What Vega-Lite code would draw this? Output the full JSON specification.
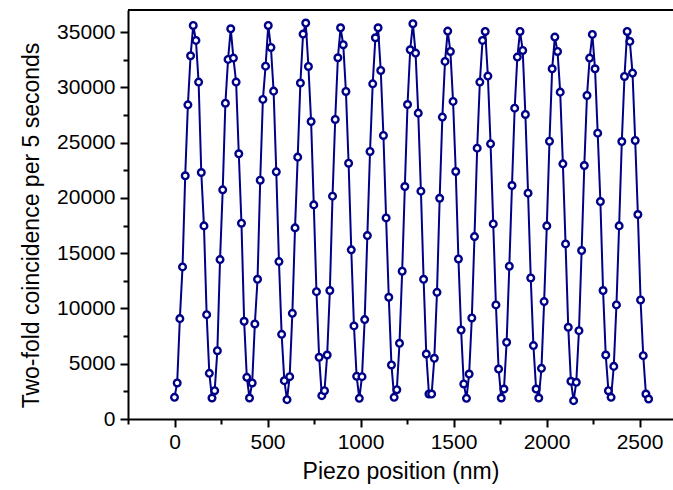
{
  "$schema": "https://vega.github.io/schema/vega-lite/v6.json",
  "autosize": {"type": "none"},
  "padding": {"left": 128, "top": 10, "right": 0, "bottom": 71},
  "width": 545,
  "height": 409,
  "background": "white",
  "config": {
    "view": {"stroke": null},
    "axis": {
      "grid": false,
      "domainColor": "black",
      "domainWidth": 2,
      "tickColor": "black",
      "tickWidth": 2,
      "labelFont": "Liberation Sans",
      "labelFontSize": 21,
      "labelColor": "black",
      "titleFont": "Liberation Sans",
      "titleFontSize": 23,
      "titleFontWeight": "normal",
      "titleColor": "black"
    }
  },
  "data": {
    "values": [
      {"x": 0, "y": 1960}, {"x": 14.4, "y": 3260}, {"x": 28.8, "y": 9080}, {"x": 43.2, "y": 13760}, {"x": 57.6, "y": 22000},
      {"x": 72, "y": 28420}, {"x": 86.4, "y": 32860}, {"x": 100.8, "y": 35600}, {"x": 115.2, "y": 34250}, {"x": 129.6, "y": 30480},
      {"x": 144, "y": 22300}, {"x": 158.4, "y": 17470}, {"x": 172.8, "y": 9440}, {"x": 187.2, "y": 4130}, {"x": 201.6, "y": 1900},
      {"x": 216, "y": 2560}, {"x": 230.4, "y": 6180}, {"x": 244.8, "y": 14420}, {"x": 259.2, "y": 20730}, {"x": 273.6, "y": 28570},
      {"x": 288, "y": 32530}, {"x": 302.4, "y": 35300}, {"x": 316.8, "y": 32650}, {"x": 331.2, "y": 30480}, {"x": 345.6, "y": 23990},
      {"x": 360, "y": 17710}, {"x": 374.4, "y": 8840}, {"x": 388.8, "y": 3770}, {"x": 403.2, "y": 1900}, {"x": 417.6, "y": 3260},
      {"x": 432, "y": 8600}, {"x": 446.4, "y": 12640}, {"x": 460.8, "y": 21600}, {"x": 475.2, "y": 28910}, {"x": 489.6, "y": 31920},
      {"x": 504, "y": 35600}, {"x": 518.4, "y": 33610}, {"x": 532.8, "y": 29660}, {"x": 547.2, "y": 22360}, {"x": 561.6, "y": 14240},
      {"x": 576, "y": 7660}, {"x": 590.4, "y": 3470}, {"x": 604.8, "y": 1750}, {"x": 619.2, "y": 3830}, {"x": 633.6, "y": 9560},
      {"x": 648, "y": 17290}, {"x": 662.4, "y": 23690}, {"x": 676.8, "y": 30390}, {"x": 691.2, "y": 34820}, {"x": 705.6, "y": 35820},
      {"x": 720, "y": 31890}, {"x": 734.4, "y": 26910}, {"x": 748.8, "y": 19370}, {"x": 763.2, "y": 11520}, {"x": 777.6, "y": 5580},
      {"x": 792, "y": 2110}, {"x": 806.4, "y": 2560}, {"x": 820.8, "y": 5790}, {"x": 835.2, "y": 11620}, {"x": 849.6, "y": 20160},
      {"x": 864, "y": 27100}, {"x": 878.4, "y": 32680}, {"x": 892.8, "y": 35390}, {"x": 907.2, "y": 33860}, {"x": 921.6, "y": 29630},
      {"x": 936, "y": 23140}, {"x": 950.4, "y": 15300}, {"x": 964.8, "y": 8420}, {"x": 979.2, "y": 3860}, {"x": 993.6, "y": 1870},
      {"x": 1008, "y": 3830}, {"x": 1022.4, "y": 8990}, {"x": 1036.8, "y": 16590}, {"x": 1051.2, "y": 24200}, {"x": 1065.6, "y": 30320},
      {"x": 1080, "y": 34490}, {"x": 1094.4, "y": 35390}, {"x": 1108.8, "y": 31530}, {"x": 1123.2, "y": 25650}, {"x": 1137.6, "y": 18190},
      {"x": 1152, "y": 11010}, {"x": 1166.4, "y": 4890}, {"x": 1180.8, "y": 1960}, {"x": 1195.2, "y": 2650}, {"x": 1209.6, "y": 6850},
      {"x": 1224, "y": 13370}, {"x": 1238.4, "y": 21030}, {"x": 1252.8, "y": 28450}, {"x": 1267.2, "y": 33400}, {"x": 1281.6, "y": 35760},
      {"x": 1296, "y": 33100}, {"x": 1310.4, "y": 27670}, {"x": 1324.8, "y": 20610}, {"x": 1339.2, "y": 12640}, {"x": 1353.6, "y": 5880},
      {"x": 1368, "y": 2260}, {"x": 1382.4, "y": 2260}, {"x": 1396.8, "y": 5490}, {"x": 1411.2, "y": 11460}, {"x": 1425.6, "y": 19970},
      {"x": 1440, "y": 27310}, {"x": 1454.4, "y": 32350}, {"x": 1468.8, "y": 35090}, {"x": 1483.2, "y": 33250}, {"x": 1497.6, "y": 28730},
      {"x": 1512, "y": 22390}, {"x": 1526.4, "y": 14480}, {"x": 1540.8, "y": 8050}, {"x": 1555.2, "y": 3170}, {"x": 1569.6, "y": 1870},
      {"x": 1584, "y": 4070}, {"x": 1598.4, "y": 9140}, {"x": 1612.8, "y": 16500}, {"x": 1627.2, "y": 24500}, {"x": 1641.6, "y": 30480},
      {"x": 1656, "y": 34250}, {"x": 1670.4, "y": 35060}, {"x": 1684.8, "y": 31020}, {"x": 1699.2, "y": 24890}, {"x": 1713.6, "y": 17650},
      {"x": 1728, "y": 10320}, {"x": 1742.4, "y": 4520}, {"x": 1756.8, "y": 1900}, {"x": 1771.2, "y": 2710}, {"x": 1785.6, "y": 6940},
      {"x": 1800, "y": 13820}, {"x": 1814.4, "y": 21120}, {"x": 1828.8, "y": 28120}, {"x": 1843.2, "y": 32740}, {"x": 1857.6, "y": 35060},
      {"x": 1872, "y": 33340}, {"x": 1886.4, "y": 27550}, {"x": 1900.8, "y": 20430}, {"x": 1915.2, "y": 12760}, {"x": 1929.6, "y": 6640},
      {"x": 1944, "y": 2710}, {"x": 1958.4, "y": 1900}, {"x": 1972.8, "y": 4580}, {"x": 1987.2, "y": 10620}, {"x": 2001.6, "y": 17470},
      {"x": 2016, "y": 25130}, {"x": 2030.4, "y": 31680}, {"x": 2044.8, "y": 34550}, {"x": 2059.2, "y": 33250}, {"x": 2073.6, "y": 29570},
      {"x": 2088, "y": 23080}, {"x": 2102.4, "y": 15840}, {"x": 2116.8, "y": 8300}, {"x": 2131.2, "y": 3410}, {"x": 2145.6, "y": 1660},
      {"x": 2160, "y": 3320}, {"x": 2174.4, "y": 7990}, {"x": 2188.8, "y": 15240}, {"x": 2203.2, "y": 22930}, {"x": 2217.6, "y": 29270},
      {"x": 2232, "y": 32650}, {"x": 2246.4, "y": 34790}, {"x": 2260.8, "y": 31680}, {"x": 2275.2, "y": 25860}, {"x": 2289.6, "y": 19670},
      {"x": 2304, "y": 11620}, {"x": 2318.4, "y": 5790}, {"x": 2332.8, "y": 2560}, {"x": 2347.2, "y": 1960}, {"x": 2361.6, "y": 4760},
      {"x": 2376, "y": 10320}, {"x": 2390.4, "y": 17470}, {"x": 2404.8, "y": 25100}, {"x": 2419.2, "y": 30990}, {"x": 2433.6, "y": 35060},
      {"x": 2448, "y": 34160}, {"x": 2462.4, "y": 31290}, {"x": 2476.8, "y": 25200}, {"x": 2491.2, "y": 18500}, {"x": 2505.6, "y": 10770},
      {"x": 2520, "y": 5730}, {"x": 2534.4, "y": 2260}, {"x": 2548.8, "y": 1810}
    ]
  },
  "resolve": {"axis": {"x": "independent", "y": "independent"}},
  "layer": [
    {
      "mark": {"type": "line", "color": "#000088", "strokeWidth": 2},
      "encoding": {
        "x": {
          "field": "x", "type": "quantitative",
          "scale": {"domain": [-250, 2680], "nice": false, "zero": false},
          "axis": {
            "orient": "bottom",
            "values": [0, 500, 1000, 1500, 2000, 2500],
            "format": "d",
            "tickSize": 8,
            "labelPadding": 4,
            "title": "Piezo position (nm)",
            "titlePadding": 8
          }
        },
        "y": {
          "field": "y", "type": "quantitative",
          "scale": {"domain": [0, 37000], "nice": false},
          "axis": {
            "orient": "left",
            "values": [0, 5000, 10000, 15000, 20000, 25000, 30000, 35000],
            "format": "d",
            "tickSize": 8,
            "labelPadding": 5,
            "title": "Two-fold coincidence per 5 seconds",
            "titlePadding": 13,
            "titleY": 215
          }
        }
      }
    },
    {
      "mark": {"type": "point", "shape": "circle", "filled": false, "fill": "white", "fillOpacity": 1, "stroke": "#000088", "strokeWidth": 2.4, "opacity": 1, "size": 44},
      "encoding": {
        "x": {
          "field": "x", "type": "quantitative",
          "axis": {
            "orient": "bottom",
            "values": [-250, 250, 750, 1250, 1750, 2250],
            "tickSize": 5,
            "labels": false,
            "domain": false,
            "title": null
          }
        },
        "y": {
          "field": "y", "type": "quantitative",
          "axis": {
            "orient": "left",
            "values": [2500, 7500, 12500, 17500, 22500, 27500, 32500],
            "tickSize": 5,
            "labels": false,
            "domain": false,
            "title": null
          }
        }
      }
    },
    {
      "mark": {"type": "rule", "color": "black", "strokeWidth": 2},
      "encoding": {
        "y": {"datum": 37000, "type": "quantitative", "axis": null}
      }
    }
  ]
}
